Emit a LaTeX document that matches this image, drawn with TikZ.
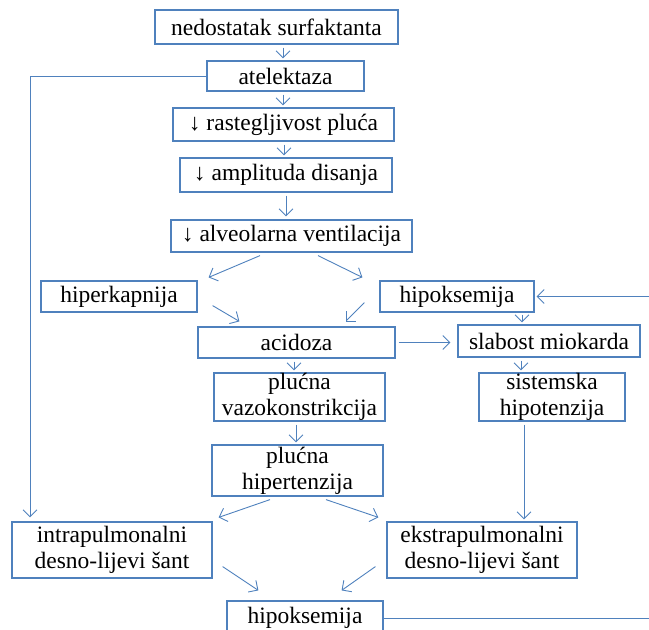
\documentclass[tikz,border=0pt]{standalone}
\usepackage{fontspec}
\setmainfont{Liberation Serif}
\usetikzlibrary{arrows.meta}
\definecolor{boxblue}{RGB}{79,129,189}
\tikzset{sbox/.style={draw=boxblue,line width=1.2pt,fill=white,inner sep=0pt,align=center,
                      font=\fontsize{23.5}{26}\selectfont},
         sline/.style={draw=boxblue,line width=0.9pt},
         sarr/.style={sline,-{Straight Barb[length=7pt,width=14pt]}}}

\begin{document}
\begin{tikzpicture}[x=1pt,y=-1pt]
  \useasboundingbox (0,0) rectangle (649,630);
  % boxes: name/x/y/width/height/text
  \foreach \n/\x/\y/\w/\h/\txt in {nss/276.5/27/243/34/{nedostatak surfaktanta},
      ate/285.5/76/157/30/{atelektaza},
      ras/283.5/124.5/221/33/{↓ rastegljivost pluća},
      amp/286/175/212/34/{↓ amplituda disanja},
      alv/291.5/236/241/32/{↓ alveolarna ventilacija},
      hik/119/296.5/156/31/{hiperkapnija},
      hio/457/296.5/154/31/{hipoksemija},
      aci/296.5/342.5/197/31/{acidoza},
      slm/549/341/182/32/{slabost miokarda},
      pvk/299.5/397/171/48/{plućna\\vazokonstrikcija},
      sht/552/397/146/48/{sistemska\\hipotenzija},
      pht/297.5/470.5/171/51/{plućna\\hipertenzija},
      ilz/112/550/200/56/{intrapulmonalni\\desno-lijevi šant},
      elz/482/550/190/56/{ekstrapulmonalni\\desno-lijevi šant},
      hib/305/618/156/34/{hipoksemija}}
    \node[sbox,minimum width=\w pt,minimum height=\h pt] (\n) at (\x,\y) {\txt};
  \coordinate (rt) at (649,296.5);
  \coordinate (rb) at (649,618);

  % main column
  \draw[sarr] ([xshift=6.5pt,yshift=-3pt]nss.south) -- ([xshift=-2.5pt,yshift=2pt]ate.north);
  \draw[sarr] ([xshift=-2.5pt,yshift=-3pt]ate.south) -- ([xshift=-0.5pt,yshift=2pt]ras.north);
  \draw[sarr] ([xshift=0.5pt,yshift=-3pt]ras.south) -- ([xshift=-2pt,yshift=2pt]amp.north);
  \draw[sarr] ([yshift=-3pt]amp.south) -- ([xshift=-5.5pt,yshift=3pt]alv.north);
  \draw[sarr] ([xshift=-31.5pt,yshift=-3pt]alv.south) -- ([xshift=11pt,yshift=3pt]hik.north east);
  \draw[sarr] ([xshift=26.5pt,yshift=-3pt]alv.south) -- ([xshift=-17pt,yshift=3pt]hio.north west);
  \draw[sarr] ([xshift=15pt,yshift=7pt]hik.south east) -- ([xshift=42pt,yshift=5pt]aci.north west);
  \draw[sarr] ([xshift=-15pt,yshift=10pt]hio.south west) -- ([xshift=-50pt,yshift=5pt]aci.north east);
  \draw[sarr,shorten <=3pt,shorten >=7pt] (aci.east) -- (aci.east -| slm.west);
  \draw[sarr] ([xshift=65pt,yshift=-2pt]hio.south) -- ([xshift=-27pt,yshift=2pt]slm.north);
  \draw[sarr] ([xshift=-2.5pt,yshift=-3pt]aci.south) -- ([xshift=-5.5pt,yshift=2pt]pvk.north);
  \draw[sarr] ([xshift=-28pt,yshift=-3pt]slm.south) -- ([xshift=-31pt,yshift=2pt]sht.north);
  \draw[sarr] ([xshift=-3.5pt,yshift=-3pt]pvk.south) -- ([xshift=-1.5pt,yshift=2pt]pht.north);
  \draw[sarr] ([xshift=-28pt,yshift=-3pt]sht.south) -- ([xshift=42pt,yshift=2pt]elz.north);
  \draw[sarr] ([xshift=-27.5pt,yshift=-3pt]pht.south) -- ([xshift=6pt,yshift=4pt]ilz.north east);
  \draw[sarr] ([xshift=28.5pt,yshift=-3pt]pht.south) -- ([xshift=-8pt,yshift=4pt]elz.north west);
  \draw[sarr] ([xshift=10pt,yshift=12pt]ilz.south east) -- ([xshift=32pt,yshift=10pt]hib.north west);
  \draw[sarr] ([xshift=-11pt,yshift=12pt]elz.south west) -- ([xshift=-42pt,yshift=10pt]hib.north east);

  % feedback lines
  \draw[sarr] (ate.west) -| ([xshift=-82pt,yshift=4pt]ilz.north);
  \draw[sline] (hib.east) -- (rb);
  \draw[sarr] (rt) -- ([xshift=2pt]hio.east);
\end{tikzpicture}
\end{document}
